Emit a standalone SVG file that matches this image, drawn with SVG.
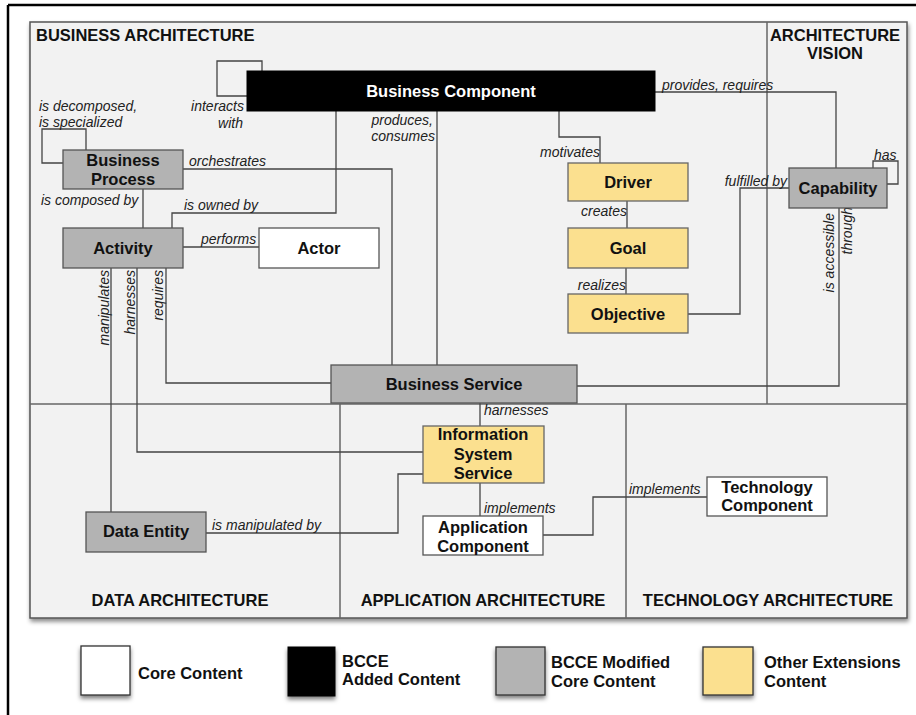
<svg xmlns="http://www.w3.org/2000/svg" width="916" height="715" viewBox="0 0 916 715">
<defs>
<filter id="sh" x="-5%" y="-5%" width="110%" height="115%">
<feDropShadow dx="1" dy="3" stdDeviation="2" flood-color="#000" flood-opacity="0.45"/>
</filter>
<filter id="sh2" x="-20%" y="-20%" width="140%" height="150%">
<feDropShadow dx="0" dy="3" stdDeviation="2" flood-color="#000" flood-opacity="0.5"/>
</filter>
</defs>
<style>
.frame{fill:none;stroke:#000;stroke-width:2.5}
.panel{fill:#f2f2f2;stroke:#555;stroke-width:1.5}
.sec{fill:none;stroke:#666;stroke-width:1.5}
.gray{fill:#b3b3b3;stroke:#555;stroke-width:1.3}
.yellow{fill:#fbe08f;stroke:#666;stroke-width:1.3}
.white{fill:#fff;stroke:#555;stroke-width:1.3}
.black{fill:#000;stroke:#000;stroke-width:1}
.t{font-family:"Liberation Sans",Arial,Helvetica,sans-serif;font-weight:bold;font-size:16.5px;fill:#111;text-anchor:middle}
.s{font-family:"Liberation Sans",Arial,Helvetica,sans-serif;font-weight:bold;font-size:16.5px;fill:#111}
.l{font-family:"Liberation Sans",Arial,Helvetica,sans-serif;font-style:italic;font-size:14px;fill:#222}
.e{text-anchor:end}
.c{fill:none;stroke:#444;stroke-width:1.3}
</style>

<line class="frame" x1="8" y1="5" x2="916" y2="5"/>
<line class="frame" x1="8" y1="5" x2="8" y2="715"/>

<g id="regions">
<rect class="panel" x="30" y="22" width="877" height="596" filter="url(#sh)"/>
<line class="sec" x1="30" y1="404" x2="907" y2="404"/>
<line class="sec" x1="767" y1="22" x2="767" y2="404"/>
<line class="sec" x1="340" y1="404" x2="340" y2="618"/>
<line class="sec" x1="626" y1="404" x2="626" y2="618"/>
<text class="s" x="36" y="41">BUSINESS ARCHITECTURE</text>
<text class="t" x="835" y="41">ARCHITECTURE</text>
<text class="t" x="835" y="59">VISION</text>
<text class="t" x="180" y="606">DATA ARCHITECTURE</text>
<text class="t" x="483" y="606">APPLICATION ARCHITECTURE</text>
<text class="t" x="768" y="606">TECHNOLOGY ARCHITECTURE</text>
</g>

<g id="connectors">
<path class="c" d="M262,71 V61 H217 V96 H247"/>
<path class="c" d="M86,150 V129 H42 V163 H63"/>
<path class="c" d="M183,169 H392 V365"/>
<path class="c" d="M143,189 V228"/>
<path class="c" d="M172,228 V213 H336 V111"/>
<path class="c" d="M183,247 H259"/>
<path class="c" d="M111,268 V512"/>
<path class="c" d="M137,268 V452 H423"/>
<path class="c" d="M166,268 V383 H331"/>
<path class="c" d="M437,111 V365"/>
<path class="c" d="M559,111 V137 H600 V163"/>
<path class="c" d="M627,201 V228"/>
<path class="c" d="M626,268 V294"/>
<path class="c" d="M688,314 H740 V188 H789"/>
<path class="c" d="M873,168 V161 H898 V184 H887"/>
<path class="c" d="M655,92 H836 V168"/>
<path class="c" d="M577,386 H839 V208"/>
<path class="c" d="M480,403 V426"/>
<path class="c" d="M206,533 H398 V474 H423"/>
<path class="c" d="M480,483 V516"/>
<path class="c" d="M543,535 H593 V497 H707"/>
<text class="l e" x="244" y="111">interacts</text>
<text class="l e" x="243" y="128">with</text>
<text class="l" x="39" y="111">is decomposed,</text>
<text class="l" x="39" y="127">is specialized</text>
<text class="l" x="189" y="166">orchestrates</text>
<text class="l" x="41" y="205">is composed by</text>
<text class="l" x="184" y="210">is owned by</text>
<text class="l" x="201" y="244">performs</text>
<text class="l e" transform="translate(109,270) rotate(-90)">manipulates</text>
<text class="l e" transform="translate(135,270) rotate(-90)">harnesses</text>
<text class="l e" transform="translate(163,270) rotate(-90)">requires</text>
<text class="l e" x="433" y="125">produces,</text>
<text class="l e" x="435" y="141">consumes</text>
<text class="l e" x="600" y="157">motivates</text>
<text class="l e" x="627" y="216">creates</text>
<text class="l e" x="626" y="290">realizes</text>
<text class="l e" x="787" y="186">fulfilled by</text>
<text class="l" x="874" y="160">has</text>
<text class="l" x="662" y="90">provides, requires</text>
<text class="l e" transform="translate(834,213) rotate(-90)">is accessible</text>
<text class="l e" transform="translate(852,207) rotate(-90)">through</text>
<text class="l" x="484" y="415">harnesses</text>
<text class="l" x="212" y="530">is manipulated by</text>
<text class="l" x="484" y="513">implements</text>
<text class="l" x="629" y="494">implements</text>
</g>

<g id="business-component">
<rect class="black" x="247" y="71" width="408" height="40"/>
<text class="t" x="451" y="97" style="fill:#fff">Business Component</text>
</g>
<g id="business-process">
<rect class="gray" x="63" y="150" width="120" height="39"/>
<text class="t" x="123" y="166">Business</text>
<text class="t" x="123" y="185">Process</text>
</g>
<g id="activity">
<rect class="gray" x="63" y="228" width="120" height="40"/>
<text class="t" x="123" y="254">Activity</text>
</g>
<g id="actor">
<rect class="white" x="259" y="228" width="120" height="40"/>
<text class="t" x="319" y="254">Actor</text>
</g>
<g id="driver">
<rect class="yellow" x="568" y="163" width="120" height="38"/>
<text class="t" x="628" y="188">Driver</text>
</g>
<g id="goal">
<rect class="yellow" x="568" y="228" width="120" height="40"/>
<text class="t" x="628" y="254">Goal</text>
</g>
<g id="objective">
<rect class="yellow" x="568" y="294" width="120" height="39"/>
<text class="t" x="628" y="320">Objective</text>
</g>
<g id="capability">
<rect class="gray" x="789" y="168" width="98" height="40"/>
<text class="t" x="838" y="194">Capability</text>
</g>
<g id="business-service">
<rect class="gray" x="331" y="365" width="246" height="38"/>
<text class="t" x="454" y="390">Business Service</text>
</g>
<g id="information-system-service">
<rect class="yellow" x="423" y="426" width="121" height="57"/>
<text class="t" x="483" y="440">Information</text>
<text class="t" x="483" y="460">System</text>
<text class="t" x="483" y="479">Service</text>
</g>
<g id="data-entity">
<rect class="gray" x="86" y="512" width="120" height="40"/>
<text class="t" x="146" y="537">Data Entity</text>
</g>
<g id="application-component">
<rect class="white" x="423" y="516" width="120" height="39"/>
<text class="t" x="483" y="533">Application</text>
<text class="t" x="483" y="552">Component</text>
</g>
<g id="technology-component">
<rect class="white" x="707" y="477" width="120" height="39"/>
<text class="t" x="767" y="493">Technology</text>
<text class="t" x="767" y="511">Component</text>
</g>

<g id="legend">
<rect class="white" x="81" y="646" width="49" height="49" filter="url(#sh2)" style="stroke:#333"/>
<text class="s" x="138" y="679">Core Content</text>
<rect class="black" x="288" y="647" width="47" height="49" filter="url(#sh2)"/>
<text class="s" x="342" y="667">BCCE</text>
<text class="s" x="342" y="685">Added Content</text>
<rect class="gray" x="496" y="647" width="49" height="48" filter="url(#sh2)" style="stroke:#333"/>
<text class="s" x="551" y="668">BCCE Modified</text>
<text class="s" x="551" y="687">Core Content</text>
<rect class="yellow" x="703" y="647" width="50" height="48" filter="url(#sh2)" style="stroke:#333"/>
<text class="s" x="764" y="668">Other Extensions</text>
<text class="s" x="764" y="687">Content</text>
</g>
</svg>
